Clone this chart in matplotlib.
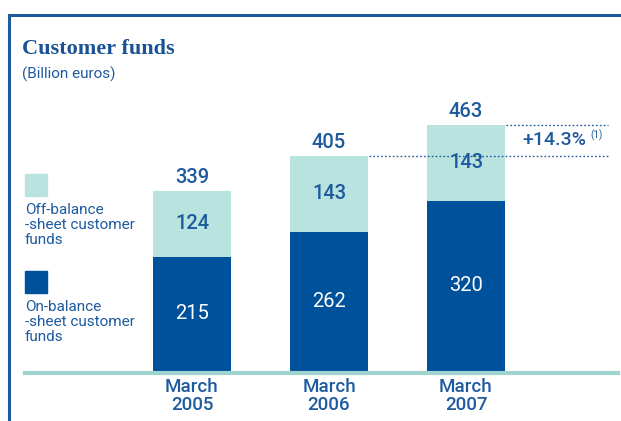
import matplotlib
matplotlib.use("Agg")
import matplotlib.pyplot as plt
from matplotlib.lines import Line2D
from matplotlib.patches import Rectangle

categories = ["March\n2005", "March\n2006", "March\n2007"]
on_balance = [215, 262, 320]
off_balance = [124, 143, 143]
totals = [339, 405, 463]
growth_label = "+14.3%"
growth_note = "(1)"
legend_off = "Off-balance\n-sheet customer\nfunds"
legend_on = "On-balance\n-sheet customer\nfunds"
title = "Customer funds"
subtitle = "(Billion euros)"

DARK = "#00519C"
LIGHT = "#B9E3DE"
BASE = "#9FD4CF"
TXT = "#1E5A9E"
SANS = ["Roboto", "DejaVu Sans"]

W, H = 621, 421
fig = plt.figure(figsize=(W / 100, H / 100), dpi=100)
fig.patch.set_facecolor("white")

# axes: baseline at pixel y=371, bar centers at x=192, 329, 466
px_per_unit = 0.5313
spacing = 137.0
ax = fig.add_axes([0, (H - 371) / H, 1, 371 / H])
ax.set_xlim(-192 / spacing, (W - 192) / spacing)
ax.set_ylim(0, 371 / px_per_unit)
ax.axis("off")

x = list(range(len(categories)))
bw = 78 / spacing
ax.bar(x, on_balance, width=bw, color=DARK, linewidth=0)
ax.bar(x, off_balance, bottom=on_balance, width=bw, color=LIGHT, linewidth=0)

for i in x:
    ax.text(i, on_balance[i] / 2, str(on_balance[i]), ha="center", va="center",
            color="white", fontsize=14.5, family=SANS)
    ax.text(i, on_balance[i] + off_balance[i] / 2, str(off_balance[i]), ha="center",
            va="center", color=TXT, fontsize=14.5, family=SANS, fontweight="medium")
    ax.text(i, totals[i] + 7, str(totals[i]), ha="center", va="bottom",
            color=TXT, fontsize=14.5, family=SANS, fontweight="medium")
    ax.text(i, -14, categories[i], ha="center", va="top", color=TXT,
            fontsize=13.5, family=SANS, fontweight="medium", linespacing=0.95)

# dotted growth reference lines
x_end = (608 - 192) / spacing
ax.hlines(totals[1], 1 + bw / 2 + 0.01, x_end, colors=TXT, linestyles=(0, (1.2, 1.6)), linewidth=1)
ax.hlines(totals[2], 2 + bw / 2 + 0.01, x_end, colors=TXT, linestyles=(0, (1.2, 1.6)), linewidth=1)
ymid = (totals[1] + totals[2]) / 2
ax.text((522 - 192) / spacing, ymid, growth_label, ha="left", va="center",
        color=TXT, fontsize=14, family=SANS, fontweight="medium")
ax.text((590 - 192) / spacing, ymid + 9, growth_note, ha="left", va="center",
        color=TXT, fontsize=7, family=SANS)

# frame lines
fig.add_artist(Line2D([8.5 / W, 1], [1 - 14.5 / H, 1 - 14.5 / H], color="#1F5A9A", linewidth=2.2))
fig.add_artist(Line2D([8.5 / W, 8.5 / W], [0, 1 - 14.5 / H], color="#1F5A9A", linewidth=2.2))

# baseline
fig.add_artist(Line2D([25 / W, 618 / W], [1 - 373 / H, 1 - 373 / H], color=BASE, linewidth=3))

# title
fig.text(22 / W, 1 - 54 / H, title, ha="left", va="baseline", color="#1A5296",
         fontsize=16, family=["Liberation Serif", "DejaVu Serif"], fontweight="bold")
fig.text(22 / W, 1 - 79 / H, subtitle, ha="left", va="baseline", color=TXT,
         fontsize=11, family=SANS)

# legend
fig.add_artist(Rectangle((25 / W, 1 - 196 / H), 22 / W, 22 / H, color=LIGHT, transform=fig.transFigure))
fig.text(25 / W, 1 - 203 / H, legend_off, ha="left", va="top", color=TXT,
         fontsize=11, family=SANS, linespacing=1.1)
fig.add_artist(Rectangle((25 / W, 1 - 293 / H), 22 / W, 22 / H, color=DARK, transform=fig.transFigure))
fig.text(25 / W, 1 - 300 / H, legend_on, ha="left", va="top", color=TXT,
         fontsize=11, family=SANS, linespacing=1.1)

fig.savefig("out.png", dpi=100)
